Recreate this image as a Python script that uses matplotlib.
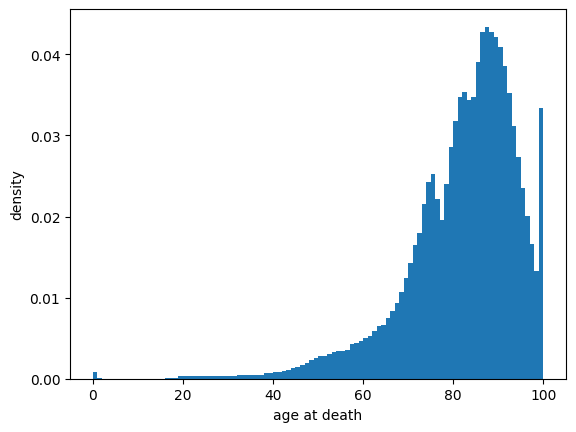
"""Histogram of age at death (density), one-year bins."""
import matplotlib
matplotlib.use("Agg")
import matplotlib.pyplot as plt

# left edge of each one-year bin, 0..99 (last bin also holds 100+)
AGES = list(range(100))
BIN_EDGES = list(range(101))

DENSITY = [
    0.00078, 0.00015, 0, 0, 0, 0, 0, 0, 0, 0,                  # 0-9
    0, 0, 0, 0, 0, 0, 0.0001, 0.00015, 0.00015, 0.00029,       # 10-19
    0.00029, 0.0003, 0.0003, 0.0003, 0.0003, 0.0003, 0.0003,   # 20-26
    0.0003, 0.0003, 0.00031, 0.00031, 0.00031,                 # 27-31
    0.0004, 0.0004, 0.0004, 0.0004, 0.00052, 0.00052,          # 32-37
    0.00066, 0.00066, 0.00078, 0.00078, 0.0009, 0.00103,       # 38-43
    0.00127, 0.0014, 0.00165, 0.002, 0.00226, 0.0025,          # 44-49
    0.00275, 0.00275, 0.003, 0.00325, 0.0034, 0.0034,          # 50-55
    0.0035, 0.00425, 0.00437, 0.0046, 0.00498, 0.00523,        # 56-61
    0.00585, 0.0065, 0.00664, 0.00746, 0.00833, 0.00932,       # 62-67
    0.01068, 0.0124, 0.0143, 0.0165, 0.018, 0.0216,            # 68-73
    0.0243, 0.0253, 0.0221, 0.0196, 0.024, 0.0286,             # 74-79
    0.0318, 0.0347, 0.0353, 0.0344, 0.0347, 0.0391,            # 80-85
    0.0428, 0.0434, 0.0428, 0.0421, 0.0409, 0.0386,            # 86-91
    0.0352, 0.0311, 0.0273, 0.0235, 0.0201, 0.0166,            # 92-97
    0.0133, 0.0334,                                            # 98-99
]

fig, ax = plt.subplots(figsize=(6.4, 4.8), dpi=100)
ax.hist(AGES, bins=BIN_EDGES, weights=DENSITY)
ax.set_xlabel("age at death")
ax.set_ylabel("density")

fig.savefig("out.png", dpi=100, bbox_inches="tight")
plt.close(fig)
